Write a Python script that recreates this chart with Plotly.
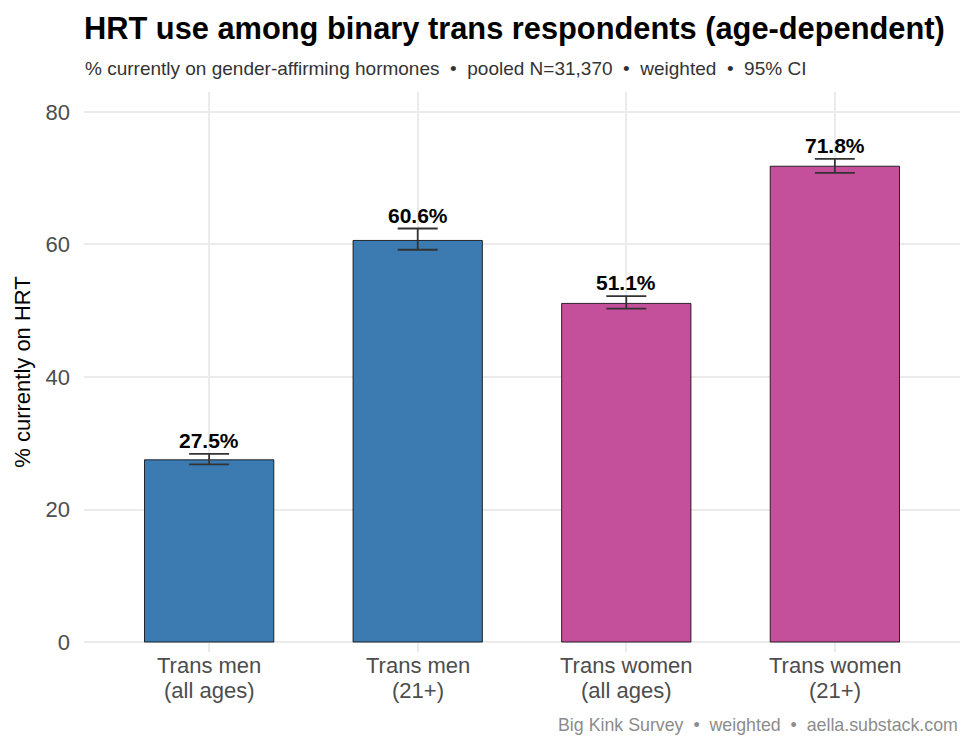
import plotly.graph_objects as go

categories = ["Trans men (all ages)", "Trans men (21+)", "Trans women (all ages)", "Trans women (21+)"]
label_line1 = ["Trans men", "Trans men", "Trans women", "Trans women"]
label_line2 = ["(all ages)", "(21+)", "(all ages)", "(21+)"]
values = [27.5, 60.6, 51.1, 71.8]
ci_low = [26.8, 59.2, 50.3, 70.8]
ci_high = [28.4, 62.4, 52.2, 72.9]
bar_colors = ["#3B7BB2", "#3B7BB2", "#C44F9B", "#C44F9B"]
labels = ["27.5%", "60.6%", "51.1%", "71.8%"]
y_ticks = [0, 20, 40, 60, 80]

font = "Liberation Sans, Arial, sans-serif"
PANEL_BOTTOM = 652

fig = go.Figure()
fig.add_trace(go.Bar(
    x=categories, y=values,
    marker=dict(color=bar_colors, line=dict(color="black", width=0.8)),
    width=0.62,
    error_y=dict(type="data", symmetric=False,
                 array=[h - v for h, v in zip(ci_high, values)],
                 arrayminus=[v - l for v, l in zip(values, ci_low)],
                 color="#333333", thickness=1.8, width=20),
    hoverinfo="skip",
))

for c, h, t in zip(categories, ci_high, labels):
    fig.add_annotation(x=c, y=h, text="<b>" + t + "</b>", showarrow=False,
                       yanchor="bottom", yshift=0,
                       font=dict(size=21, color="black", family=font))

for c, l1, l2 in zip(categories, label_line1, label_line2):
    fig.add_annotation(x=c, yref="paper", y=0, yshift=-(665 - PANEL_BOTTOM), text=l1,
                       showarrow=False, yanchor="middle",
                       font=dict(size=22, color="#4D4D4D", family=font))
    fig.add_annotation(x=c, yref="paper", y=0, yshift=-(690 - PANEL_BOTTOM), text=l2,
                       showarrow=False, yanchor="middle",
                       font=dict(size=22, color="#4D4D4D", family=font))

fig.update_layout(
    width=975, height=750,
    margin=dict(l=84, r=15, t=92, b=750 - PANEL_BOTTOM),
    plot_bgcolor="white", paper_bgcolor="white",
    showlegend=False,
    font=dict(family=font),
    title=dict(text="<b>HRT use among binary trans respondents (age-dependent)</b>",
               x=84 / 975, xanchor="left", y=1 - 28 / 750, yanchor="middle",
               font=dict(size=30.8, color="black", family=font)),
    xaxis=dict(range=[-0.6, 3.6], showgrid=True, gridcolor="#EBEBEB", gridwidth=1.5,
               showticklabels=False, ticks="", zeroline=False, showline=False),
    yaxis=dict(range=[-1.5, 83.0], tickvals=y_ticks, showgrid=True, gridcolor="#EBEBEB",
               gridwidth=1.5, zeroline=False, tickfont=dict(size=22, color="#4D4D4D"),
               title=dict(text="% currently on HRT", font=dict(size=22, color="black"), standoff=8),
               ticks="", ticklabelstandoff=13),
)

fig.add_annotation(xref="paper", yref="paper", x=0, y=1, xshift=-1, yshift=(92 - 68),
                   text="% currently on gender-affirming hormones  •  pooled N=31,370  •  weighted  •  95% CI",
                   showarrow=False, xanchor="left", yanchor="middle",
                   font=dict(size=19, color="#333333", family=font))
fig.add_annotation(xref="paper", yref="paper", x=1, y=0, yshift=-(725 - PANEL_BOTTOM), xshift=0,
                   text="Big Kink Survey  •  weighted  •  aella.substack.com",
                   showarrow=False, xanchor="right", yanchor="middle",
                   font=dict(size=17.8, color="#8C8C8C", family=font))

fig.write_html("out.html")
